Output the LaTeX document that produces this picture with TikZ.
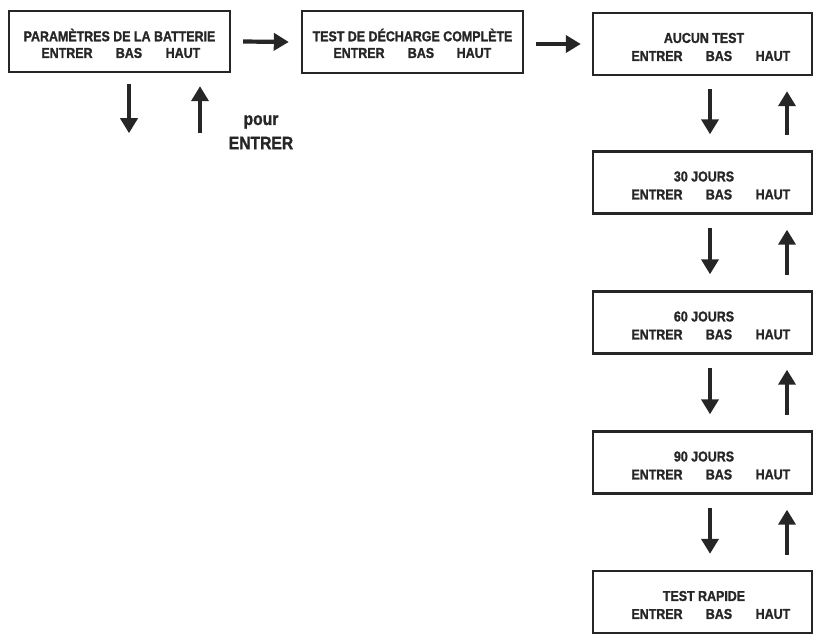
\documentclass[tikz,border=0pt]{standalone}
\usepackage{fontspec}
\setmainfont{Liberation Sans}
\newfontfamily\cond[FakeStretch=0.87,BoldFeatures={FakeBold=1.3}]{Liberation Sans}
\usetikzlibrary{arrows.meta,calc}
\begin{document}
\begin{tikzpicture}[x=1pt,y=-1pt,
 box/.style={draw=black!85,line width=2.4pt,minimum width=219pt,minimum height=61pt,inner sep=0pt},
 lbl/.style={font=\cond\bfseries\fontsize{14.3}{16}\selectfont,inner sep=0pt,text=black!85},
 big/.style={font=\cond\bfseries\fontsize{18}{20}\selectfont,inner sep=0pt,text=black!85},
 arr/.style={line width=4.2pt,-{Triangle[width=17pt,length=15pt]},draw=black!85}]
\useasboundingbox (0,0) rectangle (818,640);
% boxes
\node[box,minimum width=221pt] (b1) at (119.5,41.5) {};
\node[box,minimum width=221pt,minimum height=62pt] (b2) at (412.5,42) {};
\node[box,minimum height=62pt] (b3) at (702.5,44) {};
\node[box,minimum height=62pt] (b4) at (702.5,182.5) {};
\node[box,minimum height=62pt] (b5) at (702.5,322.5) {};
\node[box,minimum height=62pt] (b6) at (702.5,462.5) {};
\node[box,minimum height=62pt] (b7) at (702.5,602) {};
% texts box1
\node[lbl] (t1) at (119.5,35) {PARAMÈTRES DE LA BATTERIE};
\node[lbl] (e1) at (67,53) {ENTRER};
\node[lbl] (s1) at (129,53) {BAS};
\node[lbl] (h1) at (183,53) {HAUT};
% box2
\node[lbl] (t2) at (412.5,35) {TEST DE DÉCHARGE COMPLÈTE};
\node[lbl] (e2) at (359,53) {ENTRER};
\node[lbl] (s2) at (421,53) {BAS};
\node[lbl] (h2) at (474,53) {HAUT};
% right column
\foreach \n/\cy/\t in {3/44/AUCUN TEST,4/182.5/30 JOURS,5/322.5/60 JOURS,6/462.5/90 JOURS,7/602/TEST RAPIDE}{
  \node[lbl] (t\n) at (704,\cy-6) {\t};
  \node[lbl] (e\n) at (657,\cy+12) {ENTRER};
  \node[lbl] (s\n) at (719,\cy+12) {BAS};
  \node[lbl] (h\n) at (773,\cy+12) {HAUT};
}
% pour ENTRER
\node[big] (p1) at (261,122) {pour};
\node[big] (p2) at (261,143) {ENTRER};
% horizontal arrows
\draw[arr] ($(b1.east)+(12,0)$) -- ($(b2.west)+(-12,0)$);
\draw[arr] ($(b2.east)+(12,2)$) -- ($(b3.west)+(-11,0)$);
% arrows under box1
\coordinate (d1a) at ($(b1.south)+(9.5,11)$);
\coordinate (d1b) at ($(b1.south)+(9.5,60)$);
\coordinate (u1a) at ($(b1.south)+(80.5,60)$);
\coordinate (u1b) at ($(b1.south)+(80.5,13)$);
\draw[arr] (d1a) -- (d1b);
\draw[arr] (u1a) -- (u1b);
% right column arrows
\foreach \a/\b in {3/4,4/5,5/6,6/7}{
  \draw[arr] ($(b\a.south)+(7.5,13)$) -- ($(b\b.north)+(7.5,-16)$);
  \draw[arr] ($(b\b.north)+(84.5,-15)$) -- ($(b\a.south)+(84.5,15)$);
}
\end{tikzpicture}
\end{document}
